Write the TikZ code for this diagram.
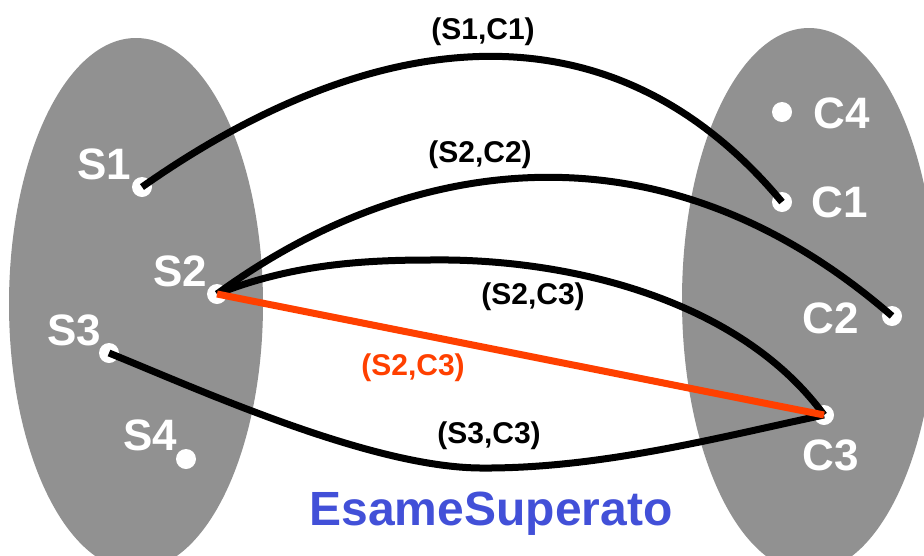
\documentclass[tikz,border=0pt]{standalone}
\usepackage{fontspec}
\setmainfont{Liberation Sans}
\definecolor{ellgray}{RGB}{145,145,145}
\definecolor{edgered}{RGB}{255,64,0}
\definecolor{titleblue}{RGB}{66,80,216}
\begin{document}
\begin{tikzpicture}[x=1pt,y=-1pt,
  dot/.style={circle,fill=white,minimum size=20pt,inner sep=0pt},
  setlabel/.style={text=white,font=\fontsize{44}{44}\selectfont\bfseries,inner sep=0pt},
  edgelabel/.style={font=\fontsize{30}{30}\selectfont\bfseries,inner sep=0pt},
  link/.style={line width=7pt},
  redlink/.style={line width=7pt,draw=edgered},
  ]
\useasboundingbox (0,0) rectangle (924,555);
\clip (0,0) rectangle (924,555);
% sets
\fill[ellgray] (136,304) ellipse [x radius=127, y radius=266];
\fill[ellgray] (809,300) ellipse [x radius=127, y radius=272];
% elements
\node[dot] (s1) at (142,187) {};
\node[dot] (s2) at (217,294) {};
\node[dot] (s3) at (109,353) {};
\node[dot] (s4) at (186,459) {};
\node[dot] (c4) at (782,112) {};
\node[dot] (c1) at (782,202) {};
\node[dot] (c2) at (892,316) {};
\node[dot] (c3) at (824,415) {};
\node[setlabel] (ls1) at (104,164) {S1};
\node[setlabel] (ls2) at (180,271) {S2};
\node[setlabel] (ls3) at (74,330) {S3};
\node[setlabel] (ls4) at (150,435) {S4};
\node[setlabel] (lc4) at (842,113) {C4};
\node[setlabel] (lc1) at (840,202) {C1};
\node[setlabel] (lc2) at (831,318) {C2};
\node[setlabel] (lc3) at (831,455) {C3};
% connectors
\coordinate (m23) at (430,260);
\coordinate (m33) at (480,468);
\draw[link] (s1.center) .. controls (348,42) and (597,-20) .. (c1.center);
\draw[link] (s2.center) .. controls (400,160) and (655,110) .. (c2.center);
\draw[link] (s2.center) .. controls (290,265) and (360,260) .. (m23)
  .. controls (570,258) and (740,300) .. (c3.center);
\draw[link] (s3.center) .. controls (200,390) and (370,467) .. (m33)
  .. controls (600,469) and (720,437) .. (c3.center);
\draw[redlink] (s2.center) -- (c3.center);
% edge labels
\node[edgelabel] (e11) at (483,32) {(S1,C1)};
\node[edgelabel] (e22) at (480,155) {(S2,C2)};
\node[edgelabel] (e23) at (533,297) {(S2,C3)};
\node[edgelabel,text=edgered] (e23r) at (413,368) {(S2,C3)};
\node[edgelabel] (e33) at (489,436) {(S3,C3)};
% title
\node[anchor=base,inner sep=0pt,text=titleblue,font=\fontsize{48}{48}\selectfont\bfseries] (title) at (491,525) {EsameSuperato};
\end{tikzpicture}
\end{document}
